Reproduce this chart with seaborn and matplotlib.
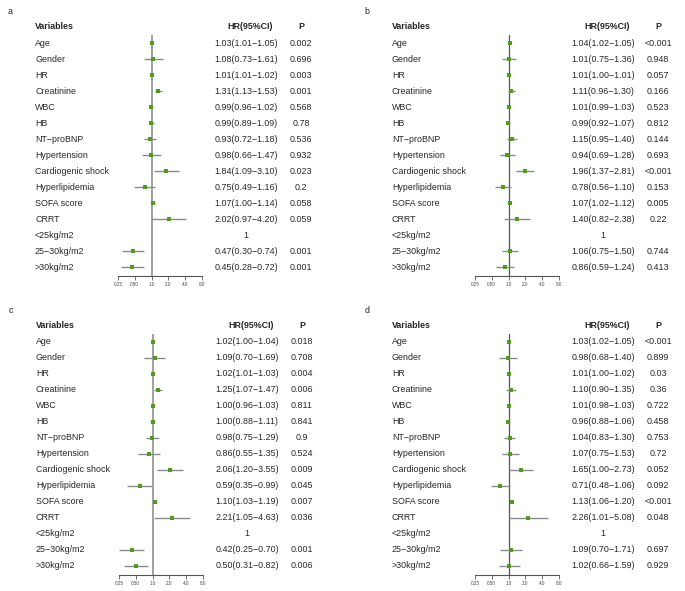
import numpy as np
import matplotlib
matplotlib.use("Agg")
import matplotlib.pyplot as plt
import matplotlib.transforms as mtransforms
import seaborn as sns

# variables (same for all four panels)
variables = ["Age", "Gender", "HR", "Creatinine", "WBC", "HB", "NT\u2212proBNP",
             "Hypertension", "Cardiogenic shock", "Hyperlipidemia", "SOFA score",
             "CRRT", "<25kg/m2", "25\u221230kg/m2", ">30kg/m2"]

# panel a
hr_a = [1.03, 1.08, 1.01, 1.31, 0.99, 0.99, 0.93, 0.98, 1.84, 0.75, 1.07, 2.02, 1, 0.47, 0.45]
lo_a = [1.01, 0.73, 1.01, 1.13, 0.96, 0.89, 0.72, 0.66, 1.09, 0.49, 1.00, 0.97, np.nan, 0.30, 0.28]
hi_a = [1.05, 1.61, 1.02, 1.53, 1.02, 1.09, 1.18, 1.47, 3.10, 1.16, 1.14, 4.20, np.nan, 0.74, 0.72]
p_a = ["0.002", "0.696", "0.003", "0.001", "0.568", "0.78", "0.536", "0.932", "0.023",
       "0.2", "0.058", "0.059", "", "0.001", "0.001"]

# panel b
hr_b = [1.04, 1.01, 1.01, 1.11, 1.01, 0.99, 1.15, 0.94, 1.96, 0.78, 1.07, 1.40, 1, 1.06, 0.86]
lo_b = [1.02, 0.75, 1.00, 0.96, 0.99, 0.92, 0.95, 0.69, 1.37, 0.56, 1.02, 0.82, np.nan, 0.75, 0.59]
hi_b = [1.05, 1.36, 1.01, 1.30, 1.03, 1.07, 1.40, 1.28, 2.81, 1.10, 1.12, 2.38, np.nan, 1.50, 1.24]
p_b = ["<0.001", "0.948", "0.057", "0.166", "0.523", "0.812", "0.144", "0.693", "<0.001",
       "0.153", "0.005", "0.22", "", "0.744", "0.413"]

# panel c
hr_c = [1.02, 1.09, 1.02, 1.25, 1.00, 1.00, 0.98, 0.86, 2.06, 0.59, 1.10, 2.21, 1, 0.42, 0.50]
lo_c = [1.00, 0.70, 1.01, 1.07, 0.96, 0.88, 0.75, 0.55, 1.20, 0.35, 1.03, 1.05, np.nan, 0.25, 0.31]
hi_c = [1.04, 1.69, 1.03, 1.47, 1.03, 1.11, 1.29, 1.35, 3.55, 0.99, 1.19, 4.63, np.nan, 0.70, 0.82]
p_c = ["0.018", "0.708", "0.004", "0.006", "0.811", "0.841", "0.9", "0.524", "0.009",
       "0.045", "0.007", "0.036", "", "0.001", "0.006"]

# panel d
hr_d = [1.03, 0.98, 1.01, 1.10, 1.01, 0.96, 1.04, 1.07, 1.65, 0.71, 1.13, 2.26, 1, 1.09, 1.02]
lo_d = [1.02, 0.68, 1.00, 0.90, 0.98, 0.88, 0.83, 0.75, 1.00, 0.48, 1.06, 1.01, np.nan, 0.70, 0.66]
hi_d = [1.05, 1.40, 1.02, 1.35, 1.03, 1.06, 1.30, 1.53, 2.73, 1.06, 1.20, 5.08, np.nan, 1.71, 1.59]
p_d = ["<0.001", "0.899", "0.03", "0.36", "0.722", "0.458", "0.753", "0.72", "0.052",
       "0.092", "<0.001", "0.048", "", "0.697", "0.929"]

ticks = [0.25, 0.5, 1, 2, 4, 8]
tick_labels = ["0.25", "0.50", "1.0", "2.0", "4.0", "8.0"]

sns.set_theme(style="white")
plt.rcParams["font.family"] = ["Liberation Sans", "DejaVu Sans"]

W, H = 685, 591
fig = plt.figure(figsize=(W / 100, H / 100), dpi=100)
green = "#4f9a1f"


def fx(px):
    return px / W


def fy(py):
    return 1 - py / H


def panel(letter, ox, oy, hr, lo, hi, pv, refcol, reflw):
    # forest axes: 0.25 .. 8 on log scale, rows spaced 16px
    top, bottom = oy + 35, oy + 276
    left, right = ox + 118, ox + 202
    ax = fig.add_axes([fx(left), fy(bottom), fx(right - left), (bottom - top) / H])
    rows = np.arange(len(variables))
    ax.set_xscale("log", base=2)
    ax.set_xlim(0.25, 8)
    ax.set_ylim((bottom - (oy + 43)) / 16, (top - (oy + 43)) / 16)
    ax.axvline(1, color=refcol, lw=reflw, zorder=1)
    lo_arr, hi_arr, hr_arr = np.array(lo), np.array(hi), np.array(hr)
    ok = ~np.isnan(lo_arr)
    ax.hlines(rows[ok], lo_arr[ok], hi_arr[ok], color="#8a8a8a", lw=1.0, zorder=2)
    sns.scatterplot(x=hr_arr[ok], y=rows[ok], marker="s", color=green, s=8,
                    linewidth=0, ax=ax, zorder=3)
    for s in ["top", "left", "right"]:
        ax.spines[s].set_visible(False)
    ax.spines["bottom"].set_color("#555555")
    ax.spines["bottom"].set_linewidth(0.8)
    ax.set_xticks(ticks)
    ax.set_xticklabels(tick_labels)
    ax.minorticks_off()
    ax.tick_params(axis="x", bottom=True, length=3, width=0.6, color="#555555",
                   labelsize=3.3, pad=1.5, labelcolor="#444444")
    ax.set_yticks([])
    ax.set_xlabel("")
    ax.set_ylabel("")

    tr = mtransforms.blended_transform_factory(fig.transFigure, ax.transData)
    fs = 6.4
    fig.text(fx(ox + 10), fy(oy + 12), letter, fontsize=fs, ha="center", va="center")
    ax.text(fx(ox + 35), -1.05, "Variables", transform=tr, fontsize=fs,
            fontweight="bold", ha="left", va="center")
    ax.text(fx(ox + 250), -1.05, "HR(95%CI)", transform=tr, fontsize=fs,
            fontweight="bold", ha="center", va="center")
    ax.text(fx(ox + 301), -1.05, "P", transform=tr, fontsize=fs,
            fontweight="bold", ha="center", va="center")
    for i, name in enumerate(variables):
        ax.text(fx(ox + 35), i, name, transform=tr, fontsize=fs, ha="left", va="center")
        if np.isnan(lo[i]):
            txt = "1"
        else:
            txt = f"{hr[i]:.2f}({lo[i]:.2f}\u2212{hi[i]:.2f})"
        ax.text(fx(ox + 246), i, txt, transform=tr, fontsize=fs, ha="center", va="center")
        ax.text(fx(ox + 301), i, pv[i], transform=tr, fontsize=fs, ha="center", va="center")


panel("a", 0, 0, hr_a, lo_a, hi_a, p_a, "#a0a0a0", 1.4)
panel("b", 357, 0, hr_b, lo_b, hi_b, p_b, "#555555", 0.9)
panel("c", 1, 299, hr_c, lo_c, hi_c, p_c, "#a0a0a0", 1.4)
panel("d", 357, 299, hr_d, lo_d, hi_d, p_d, "#555555", 0.9)

fig.savefig("out.png", dpi=100, facecolor="white")
